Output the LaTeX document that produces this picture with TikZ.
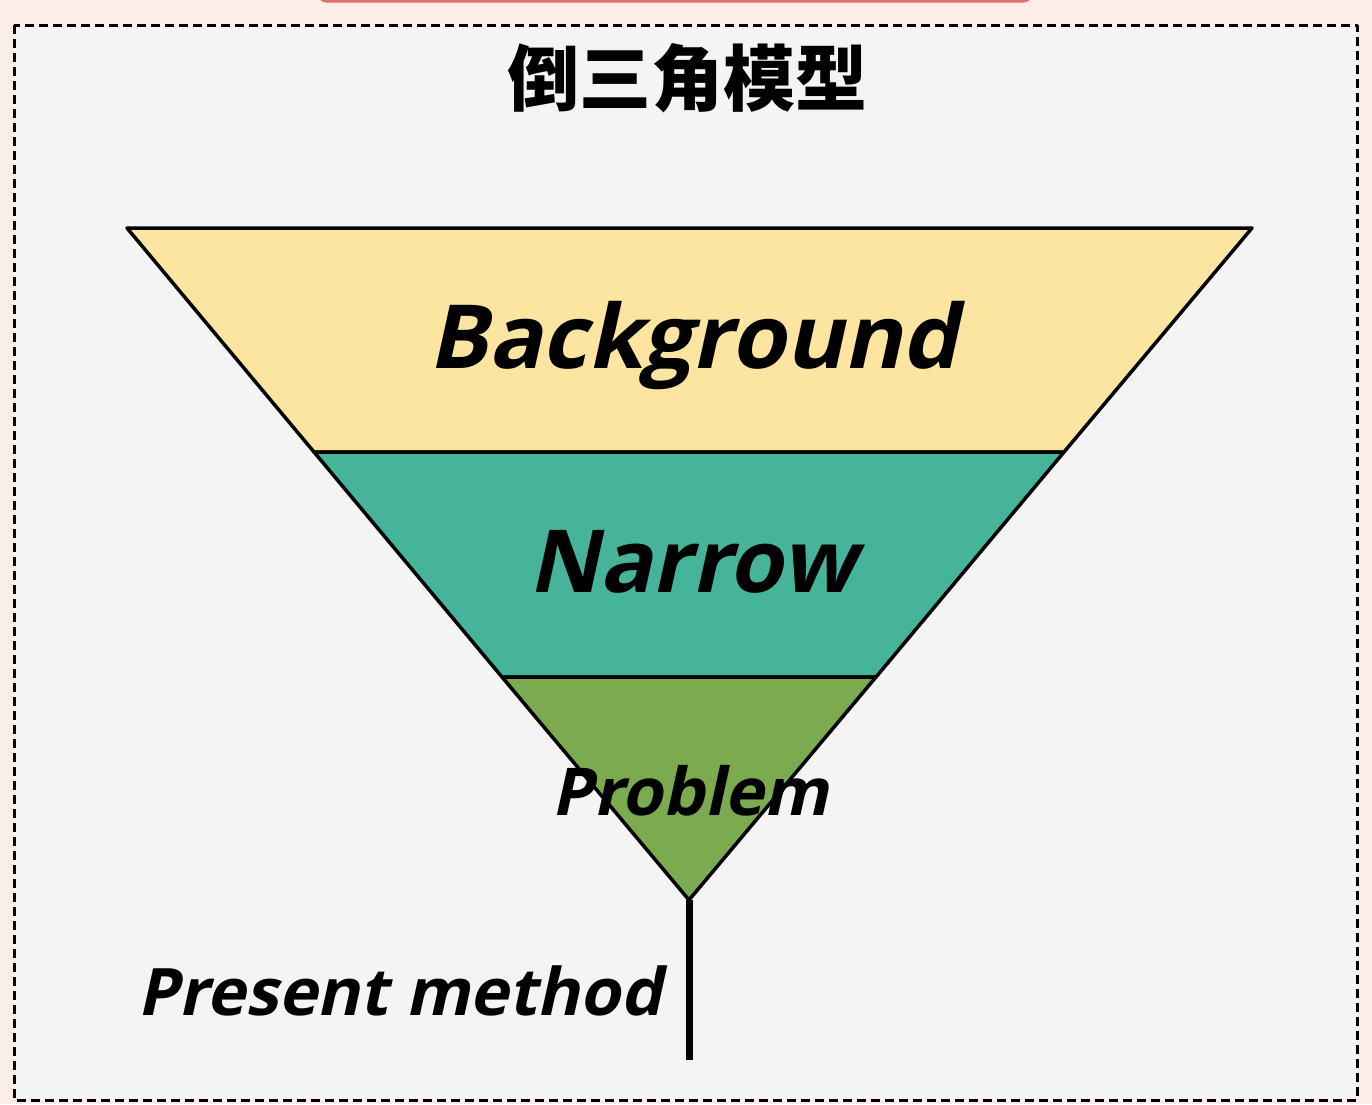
\documentclass[tikz,border=0pt]{standalone}
\usepackage{fontspec}
\setmainfont{Open Sans}
\newfontfamily\cjk{Noto Sans CJK SC}
\newfontfamily\slantsans[FakeSlant=0.22]{Open Sans}
\usetikzlibrary{positioning}
\definecolor{pagebg}{HTML}{FCEEE6}
\definecolor{boxbg}{HTML}{F4F4F4}
\definecolor{bgyellow}{HTML}{FBE5A1}
\definecolor{narrowteal}{HTML}{45B49B}
\definecolor{problemgreen}{HTML}{7BAA4F}
\definecolor{tabred}{HTML}{E0706A}

\begin{document}
\begin{tikzpicture}[x=1pt,y=-1pt,line join=round]
  \tikzstyle{band}=[draw=black,line width=3.5pt]
  \tikzstyle{label}=[inner sep=0pt,anchor=base,text=black]

  \fill[pagebg] (0,0) rectangle (1372,1104);
  \useasboundingbox (0,0) rectangle (1372,1104);
  \draw[tabred,line width=3pt,rounded corners=6pt,fill=pagebg!60!white] (320,-30) rectangle (1030,1);
  \draw[line width=3pt,dash pattern=on 9pt off 5pt,fill=boxbg] (14,25) rectangle (1357,1100);

  \node[label,font=\cjk\bfseries\fontsize{72}{72}\selectfont] (title) at (687,105) {倒三角模型};

  \coordinate (TL) at (127,228);
  \coordinate (TR) at (1252,228);
  \coordinate (ML) at (314,452);
  \coordinate (MR) at (1064,452);
  \coordinate (LL) at (502,677);
  \coordinate (LR) at (876,677);
  \coordinate (apex) at (689,900);
  \coordinate (stem) at (689,1060);

  \filldraw[band,fill=bgyellow] (TL) -- (TR) -- (MR) -- (ML) -- cycle;
  \filldraw[band,fill=narrowteal] (ML) -- (MR) -- (LR) -- (LL) -- cycle;
  \filldraw[band,fill=problemgreen] (LL) -- (LR) -- (apex) -- cycle;
  \draw[line width=7pt] (apex) -- (stem);

  \node[label,font=\slantsans\bfseries\fontsize{88.5}{88.5}\selectfont] (background) at (693,368) {Background};
  \node[label,font=\slantsans\bfseries\fontsize{87}{87}\selectfont] (narrow) at (692,592) {Narrow};
  \node[label,font=\slantsans\bfseries\fontsize{66}{66}\selectfont] (problem) at (690,815) {Problem};
  \node[label,anchor=base east,font=\slantsans\bfseries\fontsize{65.5}{65.5}\selectfont] (method) at (662,1015) {Present method};
\end{tikzpicture}
\end{document}
